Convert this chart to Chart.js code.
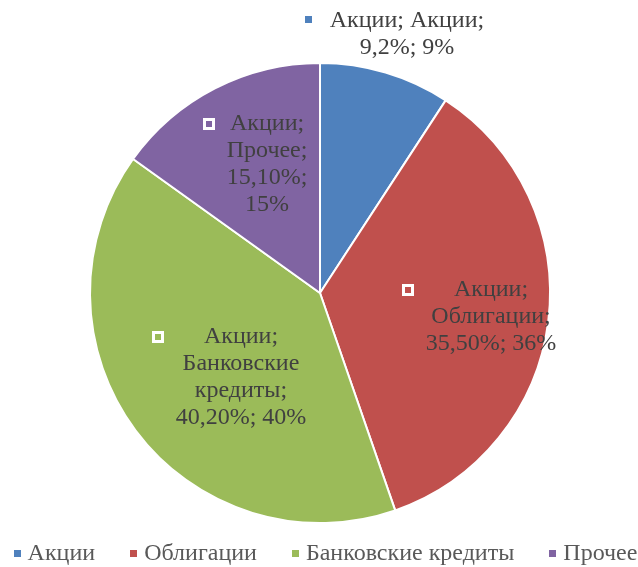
<!DOCTYPE html>
<html>
<head>
<meta charset="utf-8">
<script src="https://cdn.jsdelivr.net/npm/chart.js@4.4.1/dist/chart.umd.min.js"></script>
<style>
  html, body { margin: 0; padding: 0; background: #ffffff; }
  #wrap { width: 638px; height: 567px; position: relative; }
</style>
</head>
<body>
<div id="wrap"><canvas id="chart" width="638" height="567"></canvas></div>
<script>
// Структура источников: доли категорий
const seriesName = 'Акции';
const categories = ['Акции', 'Облигации', 'Банковские кредиты', 'Прочее'];
const shares = [9.2, 35.5, 40.2, 15.1];
const shareText = ['9,2%', '35,50%', '40,20%', '15,10%'];
const sliceColors = ['#4F81BD', '#C0504D', '#9BBB59', '#8064A2'];

const FONT = "'Liberation Serif', 'Times New Roman', serif";
const LABEL_SIZE = 24;
const LINE_H = 27;

// Placement of each data label relative to its slice
const labelLayout = [
  { frac: 1.188, shift: 2.0, wrap: 190, key: 'solid' },
  { frac: 0.751, shift: 1.0, wrap: 140, key: 'hollow' },
  { frac: 0.503, shift: -10.2, wrap: 140, key: 'hollow' },
  { frac: 0.606, shift: 4.85, wrap: 100, key: 'hollow' }
];

function wrapWords(ctx, text, maxW) {
  const words = text.split(' ');
  const lines = [];
  let cur = '';
  words.forEach(w => {
    const t = cur ? cur + ' ' + w : w;
    if (cur && ctx.measureText(t).width > maxW) { lines.push(cur); cur = w; }
    else cur = t;
  });
  if (cur) lines.push(cur);
  return lines;
}

const dataLabels = {
  id: 'dataLabels',
  afterDatasetsDraw(chart) {
    const ctx = chart.ctx;
    const ds = chart.data.datasets[0];
    const total = ds.data.reduce((a, b) => a + b, 0);
    const meta = chart.getDatasetMeta(0);
    ctx.save();
    ctx.font = LABEL_SIZE + 'px ' + FONT;
    ctx.textAlign = 'center';
    ctx.textBaseline = 'middle';
    meta.data.forEach((arc, i) => {
      const p = arc.getProps(['x', 'y', 'startAngle', 'endAngle', 'outerRadius'], true);
      const L = labelLayout[i];
      const mid = (p.startAngle + p.endAngle) / 2 + L.shift * Math.PI / 180;
      const r = p.outerRadius * L.frac;
      const cx = p.x + Math.cos(mid) * r;
      const cy = p.y + Math.sin(mid) * r;
      const pct = Math.round(ds.data[i] / total * 100) + '%';
      const text = seriesName + '; ' + chart.data.labels[i] + '; ' + shareText[i] + '; ' + pct;
      const lines = wrapWords(ctx, text, L.wrap);
      const maxW = Math.max(...lines.map(l => ctx.measureText(l).width));
      const y0 = cy - (lines.length - 1) * LINE_H / 2;
      ctx.fillStyle = '#404040';
      lines.forEach((l, k) => ctx.fillText(l, cx, y0 + k * LINE_H));
      const left = cx - maxW / 2;
      if (L.key === 'solid') {
        ctx.fillStyle = ds.backgroundColor[i];
        ctx.fillRect(Math.round(left - 25), Math.round(y0 - 4), 7, 7);
      } else {
        const kx = Math.round(left - 23.5), ky = Math.round(y0 - 6);
        ctx.fillStyle = '#ffffff';
        ctx.fillRect(kx, ky, 12, 12);
        ctx.fillStyle = ds.backgroundColor[i];
        ctx.fillRect(kx + 3, ky + 3, 6, 6);
      }
    });
    ctx.restore();
  }
};

const bottomLegend = {
  id: 'bottomLegend',
  afterDraw(chart) {
    const ctx = chart.ctx;
    const ds = chart.data.datasets[0];
    ctx.save();
    ctx.font = LABEL_SIZE + 'px ' + FONT;
    ctx.textBaseline = 'middle';
    ctx.textAlign = 'left';
    const box = 7, boxGap = 7, itemGap = 35;
    const widths = chart.data.labels.map(t => box + boxGap + ctx.measureText(t).width);
    const total = widths.reduce((a, b) => a + b, 0) + itemGap * (widths.length - 1);
    let x = 325.5 - total / 2;
    const y = 554;
    chart.data.labels.forEach((t, i) => {
      ctx.fillStyle = ds.backgroundColor[i];
      ctx.fillRect(Math.round(x), y - 4, box, box);
      ctx.fillStyle = '#595959';
      ctx.fillText(t, x + box + boxGap, y);
      x += widths[i] + itemGap;
    });
    ctx.restore();
  }
};

new Chart(document.getElementById('chart'), {
  type: 'pie',
  data: {
    labels: categories,
    datasets: [{
      label: seriesName,
      data: shares,
      backgroundColor: sliceColors,
      borderColor: '#ffffff',
      borderWidth: 2
    }]
  },
  options: {
    responsive: false,
    animation: false,
    layout: { padding: { top: 62, bottom: 43, left: 2, right: 0 } },
    plugins: {
      legend: { display: false },
      tooltip: { enabled: false }
    }
  },
  plugins: [dataLabels, bottomLegend]
});
</script>
</body>
</html>
